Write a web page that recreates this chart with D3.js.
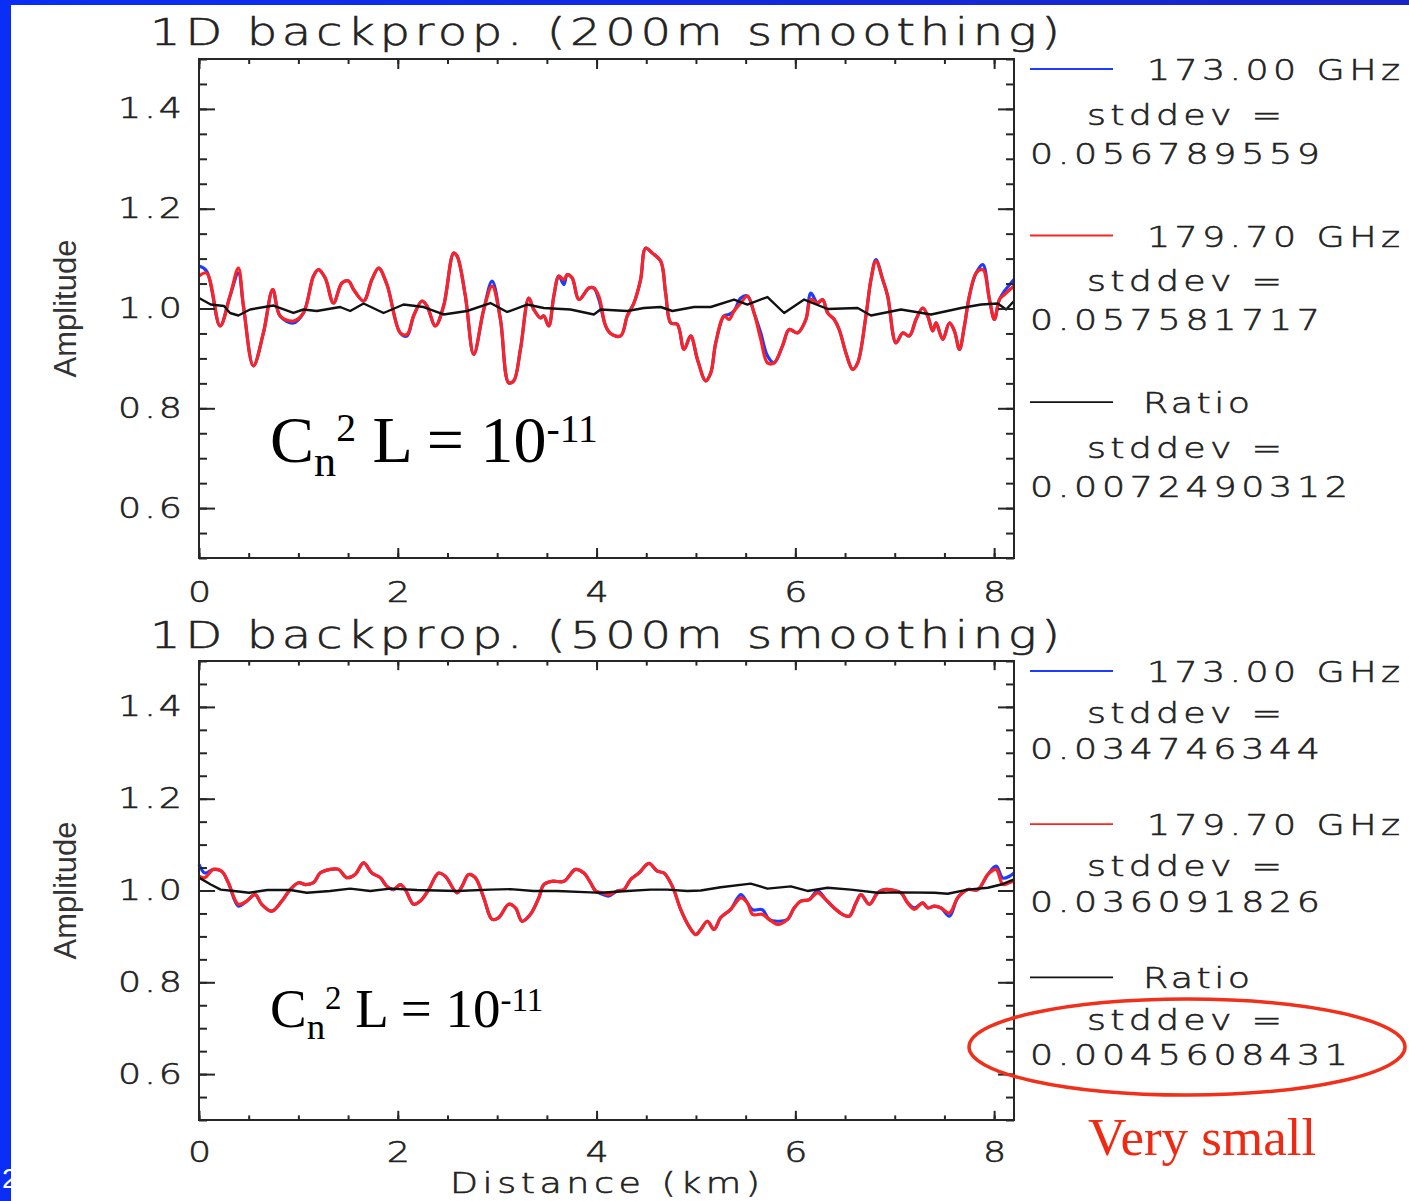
<!DOCTYPE html>
<html>
<head>
<meta charset="utf-8">
<script src="https://cdn.jsdelivr.net/npm/d3@7"></script>
<style>
  html, body { margin: 0; padding: 0; background: #fff; }
  svg { display: block; }
  .hs { font-family: "DejaVu Sans", sans-serif; font-weight: 200; fill: #222; stroke: #222; stroke-width: 0.55px; }
  .serif { font-family: "Liberation Serif", "Times New Roman", serif; }
</style>
</head>
<body>
<svg id="chart" width="1409" height="1201"></svg>
<script>
// ---------------------------------------------------------------
// Amplitude along the path [distance km, amplitude]
// ---------------------------------------------------------------

// 200 m smoothing
const topRed = [
  [0.000,1.065],[0.077,1.071],[0.212,0.965],[0.312,1.025],[0.396,1.081],[0.447,1.005],[0.547,0.885],
  [0.648,0.951],[0.742,1.038],[0.816,0.985],[0.950,0.975],[1.051,0.991],[1.152,1.065],[1.202,1.078],
  [1.270,1.061],[1.353,1.011],[1.438,1.051],[1.505,1.055],[1.555,1.038],[1.656,1.015],[1.740,1.058],
  [1.807,1.081],[1.891,1.048],[2.025,0.951],[2.093,0.948],[2.159,0.985],[2.244,1.015],[2.294,1.005],
  [2.378,0.965],[2.461,1.005],[2.562,1.111],[2.597,1.105],[2.680,1.025],[2.764,0.908],[2.865,0.998],
  [2.949,1.045],[3.033,0.978],[3.116,0.851],[3.167,0.855],[3.234,0.918],[3.318,1.021],[3.368,0.998],
  [3.436,0.981],[3.469,0.985],[3.519,0.965],[3.570,1.025],[3.620,1.065],[3.671,1.058],[3.705,1.068],
  [3.755,1.061],[3.822,1.018],[3.923,1.041],[3.973,1.041],[4.023,1.025],[4.091,0.965],[4.141,0.950],
  [4.242,0.945],[4.309,0.985],[4.376,1.011],[4.443,1.058],[4.494,1.121],[4.561,1.111],[4.645,1.095],
  [4.695,1.031],[4.746,0.971],[4.813,0.968],[4.880,0.918],[4.947,0.945],[5.015,0.898],[5.098,0.855],
  [5.149,0.871],[5.199,0.931],[5.283,0.985],[5.333,0.978],[5.383,0.995],[5.451,1.011],[5.518,1.025],
  [5.585,0.991],[5.652,0.938],[5.720,0.891],[5.786,0.891],[5.871,0.925],[5.938,0.958],[6.022,0.951],
  [6.106,0.978],[6.156,1.018],[6.224,1.011],[6.274,1.018],[6.325,0.991],[6.391,0.978],[6.441,0.958],
  [6.509,0.911],[6.576,0.878],[6.627,0.891],[6.710,0.985],[6.761,1.058],[6.811,1.095],[6.879,1.058],
  [6.929,1.025],[7.013,0.931],[7.080,0.951],[7.147,0.945],[7.214,0.978],[7.282,1.001],[7.332,0.985],
  [7.382,0.955],[7.416,0.971],[7.483,0.938],[7.550,0.971],[7.600,0.955],[7.651,0.918],[7.701,0.965],
  [7.751,1.025],[7.819,1.071],[7.886,1.078],[7.953,1.018],[8.003,0.978],[8.053,1.018],[8.104,1.028],
  [8.200,1.045]
];
const topBlue = [
  [0.000,1.085],[0.077,1.075],[0.212,0.965],[0.312,1.025],[0.396,1.071],[0.447,1.005],[0.547,0.885],
  [0.648,0.951],[0.742,1.038],[0.816,0.985],[0.950,0.971],[1.051,0.991],[1.152,1.065],[1.202,1.078],
  [1.270,1.061],[1.353,1.011],[1.438,1.051],[1.505,1.055],[1.555,1.038],[1.656,1.015],[1.740,1.058],
  [1.807,1.081],[1.891,1.048],[2.025,0.951],[2.093,0.945],[2.159,0.985],[2.244,1.015],[2.294,1.005],
  [2.378,0.965],[2.461,1.005],[2.562,1.111],[2.597,1.105],[2.680,1.025],[2.764,0.908],[2.865,0.998],
  [2.949,1.055],[3.033,0.978],[3.116,0.851],[3.167,0.855],[3.234,0.918],[3.318,1.021],[3.368,0.998],
  [3.436,0.981],[3.469,0.985],[3.519,0.965],[3.570,1.025],[3.620,1.065],[3.671,1.048],[3.705,1.068],
  [3.755,1.061],[3.822,1.018],[3.923,1.041],[3.973,1.041],[4.023,1.018],[4.091,0.965],[4.141,0.950],
  [4.242,0.945],[4.309,0.985],[4.376,1.011],[4.443,1.058],[4.494,1.121],[4.561,1.111],[4.645,1.095],
  [4.695,1.031],[4.746,0.971],[4.813,0.968],[4.880,0.918],[4.947,0.945],[5.015,0.898],[5.098,0.855],
  [5.149,0.871],[5.199,0.931],[5.283,0.985],[5.333,0.988],[5.383,0.995],[5.451,1.021],[5.518,1.025],
  [5.585,0.991],[5.652,0.951],[5.720,0.905],[5.786,0.891],[5.871,0.925],[5.938,0.958],[6.022,0.951],
  [6.106,0.978],[6.156,1.031],[6.224,1.011],[6.274,1.018],[6.325,0.991],[6.391,0.978],[6.441,0.958],
  [6.509,0.911],[6.576,0.878],[6.627,0.891],[6.710,0.985],[6.761,1.058],[6.811,1.098],[6.879,1.058],
  [6.929,1.025],[7.013,0.931],[7.080,0.951],[7.147,0.945],[7.214,0.978],[7.282,1.001],[7.332,0.985],
  [7.382,0.955],[7.416,0.971],[7.483,0.938],[7.550,0.971],[7.600,0.955],[7.651,0.918],[7.701,0.965],
  [7.751,1.025],[7.819,1.071],[7.886,1.088],[7.953,1.018],[8.003,0.978],[8.053,1.018],[8.104,1.035],
  [8.200,1.058]
];
const topRatio = [
  [0.000,1.021],[0.118,1.008],[0.252,1.005],[0.312,0.991],[0.396,0.986],[0.514,0.998],[0.749,1.006],
  [0.950,0.991],[1.051,0.998],[1.185,0.995],[1.420,1.003],[1.521,0.995],[1.656,1.010],[1.857,0.991],
  [2.058,1.008],[2.260,1.003],[2.461,0.988],[2.697,0.995],[2.932,1.011],[3.100,0.993],[3.301,1.008],
  [3.469,1.001],[3.738,0.998],[3.973,0.988],[4.040,0.998],[4.309,0.995],[4.477,1.001],[4.645,1.003],
  [4.763,0.995],[4.981,1.003],[5.149,1.003],[5.383,1.018],[5.518,1.008],[5.720,1.023],[5.887,0.991],
  [6.089,1.018],[6.325,0.999],[6.627,1.001],[6.761,0.986],[7.063,0.998],[7.366,0.988],[7.668,1.001],
  [7.869,1.008],[8.037,1.010],[8.121,0.998],[8.200,1.015]
];

// 500 m smoothing
const bottomRed = [
  [0.000,1.031],[0.060,1.028],[0.144,1.046],[0.228,1.042],[0.295,1.017],[0.396,0.970],[0.480,0.977],
  [0.564,0.991],[0.631,0.970],[0.732,0.955],[0.833,0.977],[0.917,1.002],[1.001,1.017],[1.068,1.013],
  [1.152,1.017],[1.219,1.038],[1.319,1.046],[1.403,1.046],[1.487,1.028],[1.571,1.035],[1.656,1.060],
  [1.740,1.038],[1.824,1.028],[1.891,1.009],[1.958,1.002],[2.025,1.013],[2.075,1.002],[2.159,0.970],
  [2.227,0.977],[2.311,1.002],[2.411,1.038],[2.478,1.031],[2.596,0.995],[2.646,1.009],[2.713,1.035],
  [2.780,1.028],[2.865,0.984],[2.949,0.937],[3.016,0.941],[3.116,0.970],[3.184,0.962],[3.251,0.933],
  [3.335,0.948],[3.419,0.984],[3.469,1.013],[3.553,1.020],[3.671,1.020],[3.788,1.046],[3.872,1.038],
  [3.939,1.017],[3.990,0.999],[4.057,0.995],[4.124,0.991],[4.208,0.999],[4.275,1.002],[4.343,1.024],
  [4.426,1.038],[4.527,1.059],[4.611,1.042],[4.678,1.038],[4.763,1.009],[4.846,0.959],[4.930,0.922],
  [4.998,0.904],[5.048,0.915],[5.115,0.933],[5.182,0.915],[5.249,0.941],[5.350,0.959],[5.451,0.984],
  [5.518,0.973],[5.569,0.948],[5.669,0.948],[5.736,0.937],[5.821,0.926],[5.921,0.937],[5.988,0.962],
  [6.055,0.977],[6.139,0.980],[6.224,0.995],[6.307,0.980],[6.391,0.962],[6.474,0.948],[6.542,0.944],
  [6.610,0.973],[6.660,0.991],[6.744,0.970],[6.828,0.995],[6.895,1.002],[6.979,1.001],[7.063,0.995],
  [7.130,0.973],[7.197,0.959],[7.282,0.973],[7.332,0.962],[7.399,0.966],[7.466,0.962],[7.550,0.951],
  [7.634,0.984],[7.735,1.002],[7.836,1.002],[7.937,1.035],[8.020,1.046],[8.088,1.013],[8.154,1.017],
  [8.200,1.020]
];
const bottomBlue = [
  [0.000,1.057],[0.060,1.038],[0.144,1.046],[0.228,1.042],[0.295,1.017],[0.396,0.966],[0.480,0.977],
  [0.564,0.991],[0.631,0.970],[0.732,0.955],[0.833,0.977],[0.917,1.002],[1.001,1.017],[1.068,1.013],
  [1.152,1.017],[1.219,1.038],[1.319,1.046],[1.403,1.046],[1.487,1.028],[1.571,1.035],[1.656,1.060],
  [1.740,1.038],[1.824,1.028],[1.891,1.009],[1.958,1.002],[2.025,1.013],[2.075,1.002],[2.159,0.970],
  [2.227,0.977],[2.311,1.002],[2.411,1.038],[2.478,1.031],[2.596,0.995],[2.646,1.009],[2.713,1.035],
  [2.780,1.028],[2.865,0.984],[2.949,0.937],[3.016,0.941],[3.116,0.970],[3.184,0.962],[3.251,0.933],
  [3.335,0.948],[3.419,0.984],[3.469,1.013],[3.553,1.020],[3.671,1.020],[3.788,1.046],[3.872,1.038],
  [3.939,1.017],[3.990,0.999],[4.057,0.992],[4.124,0.988],[4.208,0.999],[4.275,1.002],[4.343,1.024],
  [4.426,1.038],[4.527,1.059],[4.611,1.042],[4.678,1.038],[4.763,1.009],[4.846,0.959],[4.930,0.922],
  [4.998,0.904],[5.048,0.915],[5.115,0.933],[5.182,0.915],[5.249,0.941],[5.350,0.959],[5.451,0.991],
  [5.518,0.973],[5.569,0.958],[5.669,0.958],[5.736,0.937],[5.821,0.933],[5.921,0.937],[5.988,0.962],
  [6.055,0.977],[6.139,0.980],[6.224,0.999],[6.307,0.980],[6.391,0.962],[6.474,0.948],[6.542,0.944],
  [6.610,0.973],[6.660,0.991],[6.744,0.970],[6.828,0.995],[6.895,1.002],[6.979,1.001],[7.063,0.995],
  [7.130,0.973],[7.197,0.962],[7.282,0.973],[7.332,0.962],[7.399,0.966],[7.466,0.962],[7.550,0.944],
  [7.634,0.984],[7.735,1.002],[7.836,1.002],[7.937,1.035],[8.020,1.053],[8.088,1.027],[8.154,1.031],
  [8.200,1.038]
];
const bottomRatio = [
  [0.000,1.028],[0.118,1.013],[0.218,1.002],[0.353,0.999],[0.504,0.995],[0.688,1.001],[0.917,1.001],
  [1.085,0.995],[1.319,0.999],[1.521,1.004],[1.723,0.999],[1.924,1.004],[2.193,1.001],[2.596,0.999],
  [2.932,1.002],[3.133,1.003],[3.368,0.999],[3.603,0.999],[3.939,0.996],[4.040,0.995],[4.309,0.999],
  [4.544,1.002],[4.712,1.002],[4.913,0.999],[5.048,1.000],[5.249,1.007],[5.551,1.015],[5.720,1.004],
  [5.955,1.009],[6.122,0.999],[6.325,1.006],[6.559,1.002],[6.828,0.995],[7.063,0.996],[7.399,0.995],
  [7.533,0.993],[7.735,1.002],[7.937,1.006],[8.071,1.013],[8.200,1.024]
];

// axes
const xDomain = [0, 8.2];
const yDomain = [0.5, 1.5];
const xMajorTicks = [0, 2, 4, 6, 8];
const xMinorTicks = [0, 0.5, 1, 1.5, 2, 2.5, 3, 3.5, 4, 4.5, 5, 5.5, 6, 6.5, 7, 7.5, 8];
const yMajorTicks = [0.6, 0.8, 1.0, 1.2, 1.4];
const yMinorTicks = [0.5, 0.55, 0.6, 0.65, 0.7, 0.75, 0.8, 0.85, 0.9, 0.95, 1.0, 1.05, 1.1, 1.15,
                     1.2, 1.25, 1.3, 1.35, 1.4, 1.45, 1.5];

// legend
const seriesLabels = ["173.00 GHz", "179.70 GHz", "Ratio"];
const topStddev = ["0.056789559", "0.057581717", "0.0072490312"];
const bottomStddev = ["0.034746344", "0.036091826", "0.0045608431"];

// titles
const topTitle = "1D backprop. (200m smoothing)";
const bottomTitle = "1D backprop. (500m smoothing)";
const yLabel = "Amplitude";
const xLabel = "Distance (km)";
const note = "Very small";

// ---------------------------------------------------------------
const W = 1409, H = 1201;
const BLUE = "#1c3cff", RED = "#ff2222", BLACK = "#111111", AXIS = "#262626";
const SX = 1.3;   // horizontal stretch for the wide plot lettering
const svg = d3.select("#chart");

svg.append("rect").attr("width", W).attr("height", H).attr("fill", "#ffffff");

// slide frame
const defs = svg.append("defs");
const grad = defs.append("linearGradient").attr("id", "barGrad").attr("x1", 0).attr("x2", 1);
grad.append("stop").attr("offset", 0).attr("stop-color", "#0a2ef5");
grad.append("stop").attr("offset", 1).attr("stop-color", "#1a24c8");
svg.append("rect").attr("x", 0).attr("y", 0).attr("width", W).attr("height", 5).attr("fill", "url(#barGrad)");
svg.append("rect").attr("x", 0).attr("y", 0).attr("width", 11).attr("height", H).attr("fill", "#0a2ef5");
svg.append("text").attr("x", 2).attr("y", 1188).attr("font-family", "Liberation Sans")
  .attr("font-size", 28).attr("fill", "#ffffff").text("2");

const plotLeft = 199, plotRight = 1014;

function hsText(g, str, x, y, size, len) {
  const t = g.append("text").attr("class", "hs")
    .attr("transform", `translate(${x},${y}) scale(${SX},1)`)
    .attr("font-size", size).text(str);
  if (len) t.attr("textLength", len / SX).attr("lengthAdjust", "spacing");
  return t;
}

function cnText(x, y, s) {
  const t = svg.append("text").attr("class", "serif").attr("x", x).attr("y", y)
    .attr("font-size", s).attr("fill", "#000");
  t.append("tspan").text("C");
  t.append("tspan").attr("font-size", 0.67 * s).attr("dy", 0.21 * s).text("n");
  t.append("tspan").attr("font-size", 0.6 * s).attr("dy", -0.53 * s).text("2");
  t.append("tspan").attr("dy", 0.32 * s).text("\u00a0L = 10");
  t.append("tspan").attr("font-size", 0.6 * s).attr("dy", -0.3 * s).text("-11");
}

function drawPanel(p) {
  const x = d3.scaleLinear().domain(xDomain).range([plotLeft, plotRight]);
  const y = d3.scaleLinear().domain(yDomain).range([p.bottom, p.top]);
  const h = p.bottom - p.top;
  const g = svg.append("g");

  // title
  hsText(g, p.title, 150, p.titleY, 37, 910);

  // curves: smoothed channels, raw ratio
  const smooth = d3.line().curve(d3.curveCatmullRom.alpha(0.5)).x(d => x(d[0])).y(d => y(d[1]));
  const raw = d3.line().x(d => x(d[0])).y(d => y(d[1]));
  const curves = [[p.blue, BLUE, 3.2, smooth], [p.red, RED, 3.2, smooth], [p.ratio, BLACK, 2.4, raw]];
  curves.forEach(([data, color, w, gen]) => {
    g.append("path").datum(data).attr("d", gen).attr("fill", "none")
      .attr("stroke", color).attr("stroke-width", w).attr("stroke-linejoin", "round");
  });

  // ticks (inward on all four sides)
  const xMaj = h * 0.02, xMin = h * 0.01, yMaj = 16, yMin = 8;
  const tickStyle = sel => {
    sel.select(".domain").remove();
    sel.selectAll("line").attr("stroke", AXIS).attr("stroke-width", 2);
  };
  g.append("g").attr("transform", `translate(0,${p.bottom})`)
    .call(d3.axisBottom(x).tickValues(xMinorTicks).tickSize(-xMin).tickFormat("")).call(tickStyle);
  g.append("g").attr("transform", `translate(0,${p.top})`)
    .call(d3.axisTop(x).tickValues(xMinorTicks).tickSize(-xMin).tickFormat("")).call(tickStyle);
  g.append("g").attr("transform", `translate(0,${p.top})`)
    .call(d3.axisTop(x).tickValues(xMajorTicks).tickSize(-xMaj).tickFormat("")).call(tickStyle);
  const xb = g.append("g").attr("transform", `translate(0,${p.bottom})`)
    .call(d3.axisBottom(x).tickValues(xMajorTicks).tickSize(-xMaj).tickPadding(p.xPad).tickFormat(d3.format("d")))
    .call(tickStyle);
  xb.selectAll("text").attr("class", "hs").attr("font-size", 28).attr("font-family", null)
    .attr("fill", null).attr("transform", `scale(${SX},1)`);

  g.append("g").attr("transform", `translate(${plotLeft},0)`)
    .call(d3.axisLeft(y).tickValues(yMinorTicks).tickSize(-yMin).tickFormat("")).call(tickStyle);
  g.append("g").attr("transform", `translate(${plotRight},0)`)
    .call(d3.axisRight(y).tickValues(yMinorTicks).tickSize(-yMin).tickFormat("")).call(tickStyle);
  g.append("g").attr("transform", `translate(${plotRight},0)`)
    .call(d3.axisRight(y).tickValues(yMajorTicks).tickSize(-yMaj).tickFormat("")).call(tickStyle);
  const yl = g.append("g").attr("transform", `translate(${plotLeft},0)`)
    .call(d3.axisLeft(y).tickValues(yMajorTicks).tickSize(-yMaj).tickPadding(17).tickFormat(d3.format(".1f")))
    .call(tickStyle);
  yl.selectAll("text").attr("class", "hs").attr("font-size", 28).attr("font-family", null)
    .attr("fill", null).attr("x", -17 / SX).attr("transform", `scale(${SX},1)`)
    .attr("textLength", 64 / SX).attr("lengthAdjust", "spacing");

  // frame
  g.append("rect").attr("x", plotLeft).attr("y", p.top)
    .attr("width", plotRight - plotLeft).attr("height", h)
    .attr("fill", "none").attr("stroke", AXIS).attr("stroke-width", 2);

  // y-axis title
  g.append("text").attr("transform", `translate(76,${(p.top + p.bottom) / 2}) rotate(-90)`)
    .attr("text-anchor", "middle").attr("font-family", "Liberation Sans").attr("font-size", 31)
    .attr("fill", "#333").text(yLabel);

  // legend
  const colors = [BLUE, RED, BLACK];
  const labelX = [1147, 1147, 1143];
  const labelLen = [253, 253, 107];
  seriesLabels.forEach((lab, i) => {
    const ly = p.top + 10 + i * 0.3337 * h;
    g.append("line").attr("x1", 1030).attr("x2", 1113).attr("y1", ly).attr("y2", ly)
      .attr("stroke", colors[i]).attr("stroke-width", 1.8);
    hsText(g, lab, labelX[i], ly + 11, 28, labelLen[i]);
    hsText(g, "stddev =", 1087, ly + 0.092 * h + 10, 28, 195);
    const num = p.stddev[i];
    hsText(g, num, 1030, ly + 0.168 * h + 11, 28, num.length > 11 ? 318 : 290);
  });
}

drawPanel({ top: 59, bottom: 558, titleY: 45, xPad: 24, title: topTitle,
  blue: topBlue, red: topRed, ratio: topRatio, stddev: topStddev });
drawPanel({ top: 661, bottom: 1120, titleY: 648, xPad: 22, title: bottomTitle,
  blue: bottomBlue, red: bottomRed, ratio: bottomRatio, stddev: bottomStddev });

// x-axis title
hsText(svg, xLabel, 450, 1193, 28, 310);

// annotations
cnText(270, 462, 66);
cnText(270, 1027, 55);

svg.append("ellipse").attr("cx", 1187).attr("cy", 1047).attr("rx", 218).attr("ry", 48)
  .attr("fill", "none").attr("stroke", "#f0301a").attr("stroke-width", 3.5);
svg.append("text").attr("class", "serif").attr("x", 1088).attr("y", 1155)
  .attr("font-size", 53).attr("fill", "#f02a12").text(note);
</script>
</body>
</html>
